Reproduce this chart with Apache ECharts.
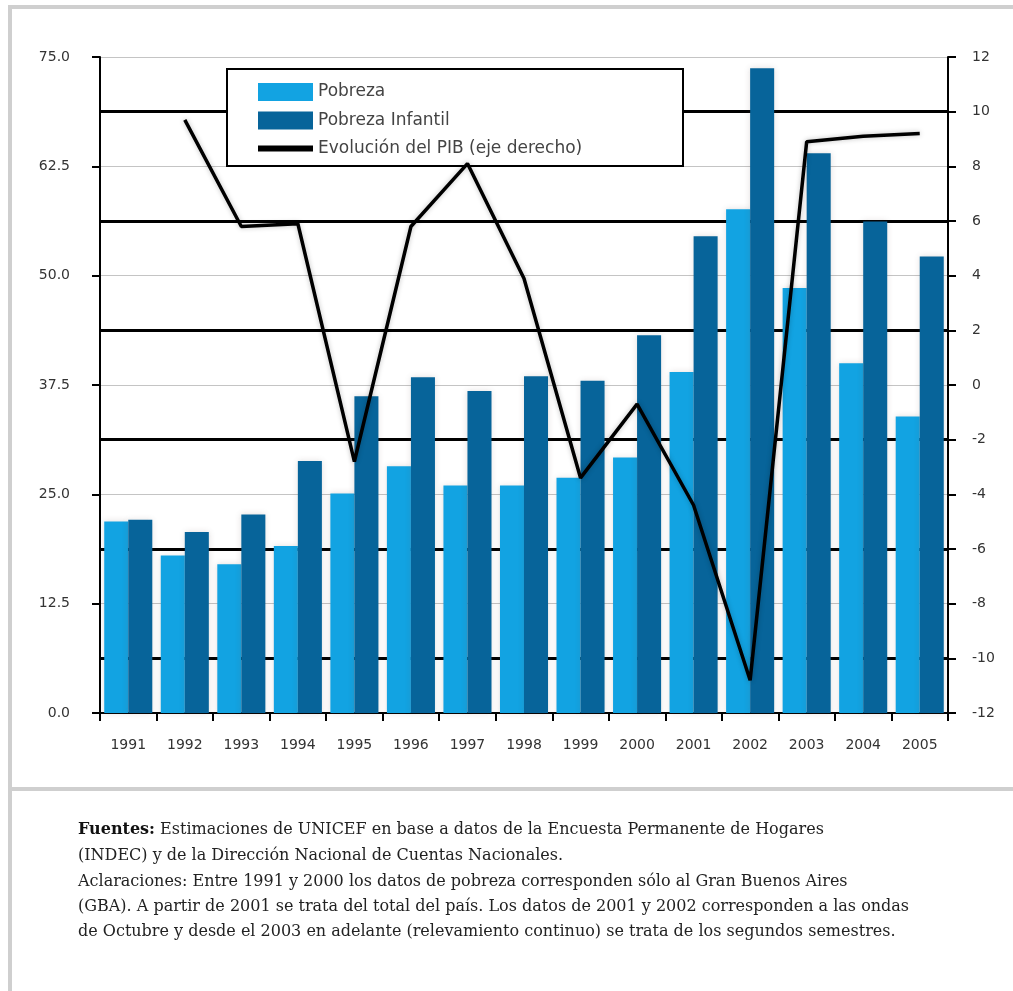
<!DOCTYPE html>
<html>
<head>
<meta charset="utf-8">
<script src="https://cdn.jsdelivr.net/npm/echarts@6/dist/echarts.min.js"></script>
<style>
  html, body { margin: 0; padding: 0; background: #ffffff; }
  #chart { width: 1013px; height: 991px; }
</style>
</head>
<body>
<div id="chart"></div>
<script>
const years = ['1991','1992','1993','1994','1995','1996','1997','1998','1999','2000','2001','2002','2003','2004','2005'];
const pobreza = [21.9, 18.0, 17.0, 19.1, 25.1, 28.2, 26.0, 26.0, 26.9, 29.2, 39.0, 57.6, 48.6, 40.0, 33.9];
const pobrezaInfantil = [22.1, 20.7, 22.7, 28.8, 36.2, 38.4, 36.8, 38.5, 38.0, 43.2, 54.5, 73.7, 64.0, 56.2, 52.2];
const pib = [null, 9.7, 5.8, 5.9, -2.8, 5.8, 8.1, 3.9, -3.4, -0.7, -4.4, -10.8, 8.9, 9.1, 9.2];
const seriesNames = ['Pobreza', 'Pobreza Infantil', 'Evolución del PIB (eje derecho)'];
const footerLines = [
  '{b|Fuentes:} Estimaciones de UNICEF en base a datos de la Encuesta Permanente de Hogares',
  '(INDEC) y de la Dirección Nacional de Cuentas Nacionales.',
  'Aclaraciones: Entre 1991 y 2000 los datos de pobreza corresponden sólo al Gran Buenos Aires',
  '(GBA). A partir de 2001 se trata del total del país. Los datos de 2001 y 2002 corresponden a las ondas',
  'de Octubre y desde el 2003 en adelante (relevamiento continuo) se trata de los segundos semestres.'
];

const chart = echarts.init(document.getElementById('chart'));
const axisFont = { fontFamily: 'DejaVu Sans', fontSize: 14, color: '#333' };
const footerY = [830, 856, 882, 907, 932];

const option = {
  backgroundColor: '#ffffff',
  animation: false,
  grid: { left: 100, right: 65, top: 57, bottom: 278 },
  legend: {
    orient: 'vertical',
    left: 255,
    top: 83,
    padding: 0,
    itemWidth: 55,
    itemHeight: 18,
    itemGap: 10.5,
    textStyle: { fontFamily: 'DejaVu Sans', fontSize: 17, color: '#444' },
    data: [
      { name: seriesNames[0], icon: 'rect' },
      { name: seriesNames[1], icon: 'rect' },
      { name: seriesNames[2], lineStyle: { width: 6 }, itemStyle: { opacity: 0 } }
    ]
  },
  xAxis: {
    type: 'category',
    data: years,
    boundaryGap: true,
    axisLine: { lineStyle: { color: '#000', width: 2 } },
    axisTick: { show: true, length: 8, alignWithLabel: false, lineStyle: { color: '#000', width: 2 } },
    axisLabel: Object.assign({ margin: 25 }, axisFont)
  },
  yAxis: [
    {
      type: 'value',
      min: 0, max: 75, interval: 12.5,
      axisLine: { show: true, lineStyle: { color: '#000', width: 2 } },
      axisTick: { show: true, length: 8, lineStyle: { color: '#000', width: 2 } },
      axisLabel: Object.assign({ margin: 30, formatter: v => v.toFixed(1) }, axisFont),
      splitLine: { show: true, lineStyle: { color: '#c4c4c4', width: 1 } }
    },
    {
      type: 'value',
      position: 'right',
      min: -12, max: 12, interval: 2,
      axisLine: { show: true, lineStyle: { color: '#000', width: 2 } },
      axisTick: { show: true, length: 8, lineStyle: { color: '#000', width: 2 } },
      axisLabel: Object.assign({ margin: 24 }, axisFont),
      splitLine: { show: true, lineStyle: { color: ['rgba(0,0,0,0)', '#000'], width: 3 } }
    }
  ],
  graphic: [
    { type: 'rect', z: 1, shape: { x: 227, y: 69, width: 456, height: 97 },
      style: { fill: '#fff', stroke: '#000', lineWidth: 2 } },
    { type: 'line', z: 1, shape: { x1: 10, y1: 5, x2: 10, y2: 991 }, style: { stroke: '#cfcfcf', lineWidth: 4 } },
    { type: 'line', z: 1, shape: { x1: 8, y1: 7, x2: 1013, y2: 7 }, style: { stroke: '#cfcfcf', lineWidth: 4 } },
    { type: 'line', z: 1, shape: { x1: 8, y1: 789, x2: 1013, y2: 789 }, style: { stroke: '#cfcfcf', lineWidth: 4 } }
  ].concat(footerLines.map((t, i) => ({
    type: 'text', z: 2,
    style: {
      text: t, x: 78, y: footerY[i], verticalAlign: 'middle',
      font: '16px "DejaVu Serif"', fill: '#222',
      rich: { b: { fontWeight: 'bold', fontFamily: 'DejaVu Serif', fontSize: 16, fill: '#111' } }
    }
  }))),
  series: [
    {
      name: seriesNames[0], type: 'bar', yAxisIndex: 0, data: pobreza,
      barGap: '0%', barCategoryGap: '15%',
      itemStyle: { color: '#12a3e2', shadowBlur: 6, shadowColor: 'rgba(90,70,70,0.18)' }
    },
    {
      name: seriesNames[1], type: 'bar', yAxisIndex: 0, data: pobrezaInfantil,
      barGap: '0%', barCategoryGap: '15%',
      itemStyle: { color: '#07649a', shadowBlur: 6, shadowColor: 'rgba(90,70,70,0.18)' }
    },
    {
      name: seriesNames[2], type: 'line', yAxisIndex: 1, data: pib,
      symbol: 'none', z: 5,
      lineStyle: { color: '#000', width: 3.5, shadowBlur: 5, shadowColor: 'rgba(0,0,0,0.25)' },
      itemStyle: { color: '#000' }
    }
  ]
};
chart.setOption(option);
</script>
</body>
</html>
